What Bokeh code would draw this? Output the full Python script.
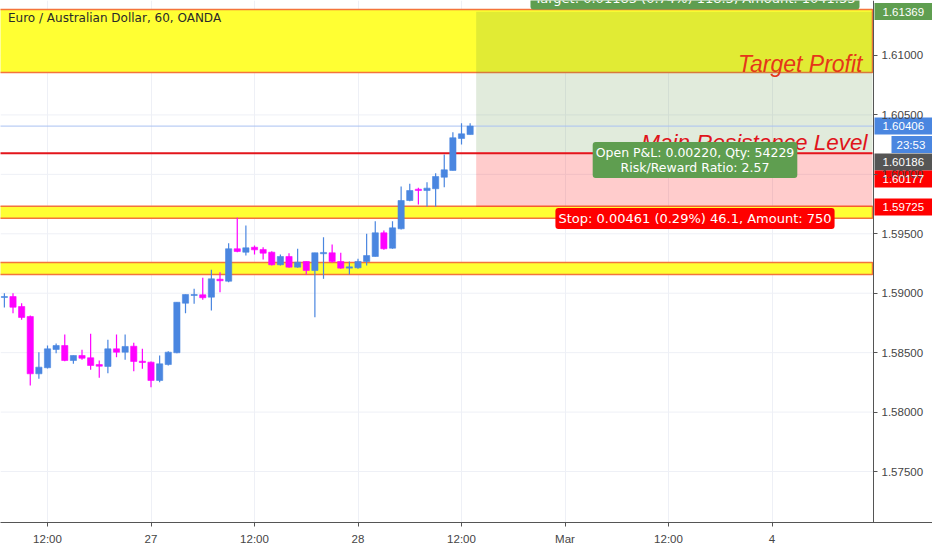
import numpy as np
from bokeh.plotting import figure
from bokeh.models import Range1d, FixedTicker, PrintfTickFormatter, Label
from bokeh.embed import file_html
from bokeh.resources import INLINE

# ---------------- data ----------------
title_text = "Euro / Australian Dollar, 60, OANDA"

# hourly bars, hours counted from Feb 26 00:00 (trading-time axis)
hours = list(range(7, 62))
opens = [1.58964, 1.58972, 1.58888, 1.58804, 1.58322, 1.58373, 1.58527, 1.58560, 1.58434, 1.58476,
         1.58457, 1.58400, 1.58384, 1.58532, 1.58504, 1.58554, 1.58428, 1.58420, 1.58266, 1.58400,
         1.58499, 1.58916, 1.58981, 1.58987, 1.58967, 1.59118, 1.59101, 1.59374, 1.59345, 1.59387,
         1.59368, 1.59345, 1.59239, 1.59309, 1.59219, 1.59267, 1.59191, 1.59332, 1.59340, 1.59267,
         1.59211, 1.59214, 1.59267, 1.59309, 1.59508, 1.59379, 1.59542, 1.59780, 1.59875, 1.59864,
         1.59879, 1.59976, 1.60033, 1.60302, 1.60335]
highs = [1.59000, 1.59000, 1.58916, 1.58813, 1.58504, 1.58560, 1.58577, 1.58653, 1.58476, 1.58524,
         1.58659, 1.58434, 1.58608, 1.58653, 1.58653, 1.58583, 1.58532, 1.58426, 1.58476, 1.58512,
         1.58924, 1.58989, 1.59037, 1.59130, 1.59197, 1.59177, 1.59421, 1.59635, 1.59570, 1.59402,
         1.59387, 1.59354, 1.59326, 1.59337, 1.59374, 1.59267, 1.59340, 1.59471, 1.59410, 1.59340,
         1.59267, 1.59290, 1.59500, 1.59606, 1.59528, 1.59606, 1.59898, 1.59921, 1.59887, 1.59934,
         1.60010, 1.60167, 1.60355, 1.60430, 1.60430]
lows = [1.58880, 1.58832, 1.58776, 1.58224, 1.58280, 1.58367, 1.58495, 1.58428, 1.58406, 1.58440,
        1.58356, 1.58288, 1.58327, 1.58462, 1.58440, 1.58344, 1.58364, 1.58209, 1.58251, 1.58392,
        1.58495, 1.58832, 1.58911, 1.58945, 1.58855, 1.59009, 1.59093, 1.59345, 1.59317, 1.59326,
        1.59284, 1.59233, 1.59233, 1.59214, 1.59214, 1.59158, 1.58798, 1.59121, 1.59256, 1.59206,
        1.59158, 1.59206, 1.59233, 1.59309, 1.59365, 1.59374, 1.59536, 1.59774, 1.59746, 1.59730,
        1.59730, 1.59892, 1.60033, 1.60251, 1.60335]
closes = [1.58972, 1.58882, 1.58796, 1.58322, 1.58378, 1.58532, 1.58560, 1.58434, 1.58476, 1.58453,
          1.58392, 1.58386, 1.58532, 1.58504, 1.58552, 1.58426, 1.58417, 1.58266, 1.58406, 1.58504,
          1.58924, 1.58989, 1.58989, 1.58962, 1.59121, 1.59105, 1.59374, 1.59351, 1.59382, 1.59365,
          1.59337, 1.59239, 1.59309, 1.59219, 1.59261, 1.59191, 1.59340, 1.59343, 1.59267, 1.59211,
          1.59222, 1.59267, 1.59317, 1.59508, 1.59374, 1.59550, 1.59780, 1.59864, 1.59864, 1.59884,
          1.59982, 1.60038, 1.60308, 1.60341, 1.60406]

x_tick_hours = [12, 24, 36, 48, 60, 72, 84, 96]
x_tick_labels = ["12:00", "27", "12:00", "28", "12:00", "Mar", "12:00", "4"]
y_ticks = [1.575, 1.580, 1.585, 1.590, 1.595, 1.600, 1.605, 1.610]

zone_bottoms = [1.60857, 1.59631, 1.59158]
zone_tops = [1.61387, 1.59732, 1.59258]
resistance_level = 1.60177
entry_price = 1.60186
stop_price = 1.59725
target_price = 1.61369
last_price = 1.60406
countdown_text = "23:53"
position_start_hour = 61.7

target_text = "Target: 0.01183 (0.74%) 118.3, Amount: 1041.33"
pnl_text = "Open P&L: 0.00220, Qty: 54229\nRisk/Reward Ratio: 2.57"
stop_text = "Stop: 0.00461 (0.29%) 46.1, Amount: 750"
zone_text = "Target Profit"
resistance_text = "Main Resistance Level"

# ---------------- layout helpers ----------------
PX_PER_H = 8.625
X0 = 6.55
FRAME_W, FRAME_H = 932, 522
X1 = X0 + FRAME_W / PX_PER_H
Y0, Y1 = 1.570710, 1.614627


def hx(px):
    return X0 + px / PX_PER_H


def py(pyv):
    return Y1 - pyv * (Y1 - Y0) / FRAME_H


AXIS_H = hx(873)
UP = "#4a86e0"
DOWN = "#ff00ff"
GREEN = "#5f9e50"

p = figure(width=932, height=550, x_range=Range1d(X0, X1), y_range=Range1d(Y0, Y1),
           y_axis_location="right", output_backend="svg", toolbar_location=None,
           min_border_left=0, min_border_top=0, min_border_right=0, min_border_bottom=28)
p.outline_line_color = None
p.background_fill_color = "white"
p.border_fill_color = "white"

# axes
p.xaxis.ticker = FixedTicker(ticks=x_tick_hours)
p.xaxis.major_label_overrides = {h: l for h, l in zip(x_tick_hours, x_tick_labels)}
p.yaxis.ticker = FixedTicker(ticks=y_ticks)
p.yaxis.formatter = PrintfTickFormatter(format="%.5f")
p.yaxis.fixed_location = AXIS_H
for ax in (p.xaxis, p.yaxis):
    ax.axis_line_color = "#555555"
    ax.major_tick_line_color = "#555555"
    ax.major_tick_out = 4
    ax.major_tick_in = 0
    ax.minor_tick_line_color = None
    ax.major_label_text_color = "#454545"
    ax.major_label_text_font = "Liberation Sans"
    ax.major_label_text_font_size = "11.5px"
p.xaxis.major_label_standoff = 6
p.yaxis.major_label_standoff = 4
p.xgrid.ticker = FixedTicker(ticks=x_tick_hours)
p.ygrid.visible = False
p.xgrid.grid_line_color = "#eef0f6"

# horizontal grid lines stop at the price scale
p.segment(x0=[X0] * len(y_ticks), x1=[AXIS_H] * len(y_ticks), y0=y_ticks, y1=y_ticks,
          line_color="#eef0f6", line_width=1)

zone_right = hx(872)

# yellow support/resistance zones
p.quad(left=[0] * len(zone_tops), right=[zone_right] * len(zone_tops),
       top=zone_tops, bottom=zone_bottoms,
       fill_color="#ffff33", line_color="#f4743b", line_width=1.5)

# long position tool zones
p.quad(left=[position_start_hour], right=[zone_right], top=[target_price], bottom=[entry_price],
       fill_color="#59903d", fill_alpha=0.18, line_color=None)
p.quad(left=[position_start_hour], right=[zone_right], top=[entry_price], bottom=[stop_price],
       fill_color="#ff0000", fill_alpha=0.2, line_color=None)

# resistance line and last price line
p.line([0, zone_right], [resistance_level, resistance_level], line_color="#e3151b", line_width=2)
p.line([0, AXIS_H], [last_price, last_price], line_color="#a9c1f2", line_width=1)

# candles
o = np.array(opens); c = np.array(closes)
cols = [UP if cc >= oo else DOWN for oo, cc in zip(opens, closes)]
p.segment(x0=hours, x1=hours, y0=lows, y1=highs, line_color=cols, line_width=1.2)
p.vbar(x=hours, width=0.72, top=np.maximum(o, c), bottom=np.minimum(o, c),
       fill_color=cols, line_color=cols, line_width=0.6)

# texts on chart
p.add_layout(Label(x=hx(7.5), y=py(17.5), text=title_text, text_font="DejaVu Sans",
                   text_font_size="12px", text_color="#2a2a2a", text_baseline="alphabetic"))
p.add_layout(Label(x=hx(862), y=py(63), text=zone_text, text_font="Liberation Sans",
                   text_font_style="italic", text_font_size="23px", text_color="#e5361a",
                   text_align="right", text_baseline="alphabetic"))
p.add_layout(Label(x=hx(867), y=py(142), text=resistance_text, text_font="Liberation Sans",
                   text_font_style="italic", text_font_size="22.5px", text_color="#e0141b",
                   text_align="right", text_baseline="alphabetic"))

cx = hx(694.5)
p.add_layout(Label(x=cx, y=py(-2.5), text=target_text, text_font="DejaVu Sans",
                   text_font_size="13px", text_color="white", text_align="center",
                   text_baseline="middle", background_fill_color=GREEN, padding=4,
                   border_radius=3))
p.add_layout(Label(x=cx, y=py(159.5), text=pnl_text, text_font="DejaVu Sans",
                   text_font_size="12.5px", text_color="white", text_align="center",
                   text_baseline="middle", background_fill_color=GREEN, padding=3,
                   border_radius=3, text_line_height=1.0))
p.add_layout(Label(x=cx, y=py(218), text=stop_text,
                   text_font="DejaVu Sans", text_font_size="13px", text_color="white",
                   text_align="center", text_baseline="middle", background_fill_color="#ff0000",
                   padding=3, border_radius=3))

# price tags on the price scale: (text, centre row in px, colour, left px)
tags = [
    ("%.5f" % target_price, 11, GREEN, 874),
    ("%.5f" % last_price, 125.5, UP, 874),
    (countdown_text, 144, UP, 891),
    ("%.5f" % entry_price, 161.5, "#555555", 874),
    ("%.5f" % resistance_level, 178.5, "#ff0000", 874),
    ("%.5f" % stop_price, 206.5, "#ff0000", 874),
]
p.quad(left=[hx(t[3]) for t in tags], right=[X1] * len(tags),
       top=[py(t[1] - 8.5) for t in tags], bottom=[py(t[1] + 8.5) for t in tags],
       fill_color=[t[2] for t in tags], line_color=None)
for txt, cy, colr, xpx in tags:
    p.add_layout(Label(x=hx(xpx + 8 if xpx == 874 else xpx + 5), y=py(cy), text=txt,
                       text_font="Liberation Sans", text_font_size="11.5px",
                       text_color="white", text_align="left", text_baseline="middle"))

open("out.html", "w").write(file_html(p, INLINE))
